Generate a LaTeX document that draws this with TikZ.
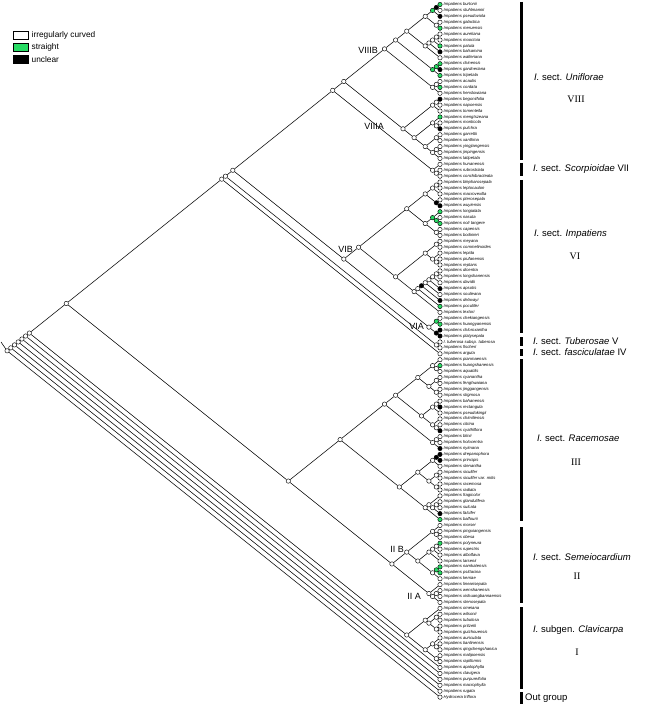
\documentclass[tikz,border=0pt]{standalone}
\usepackage{fontspec}
\setmainfont{Liberation Sans}
\newfontfamily\romfont{Liberation Serif}
\definecolor{gr}{RGB}{40,220,100}
\pgfdeclarelayer{bg}\pgfsetlayers{bg,main}
\tikzset{
 edge/.style={line width=0.55pt,black},
 nd/.style={circle,draw=black,line width=0.45pt,inner sep=0pt,minimum size=4.4pt},
 tiplab/.style={anchor=west,inner sep=0pt,font=\fontsize{4.2}{4.2}\selectfont\itshape},
 cladelab/.style={anchor=east,inner sep=0pt,font=\fontsize{9}{9}\selectfont},
 seclab/.style={anchor=west,inner sep=0pt,font=\fontsize{9.5}{9.5}\selectfont},
 romlab/.style={inner sep=0pt,font=\fontsize{10}{10}\selectfont\romfont},
 bar/.style={line width=3pt,black},
 keybox/.style={draw=black,line width=0.5pt,minimum width=15pt,minimum height=8pt,inner sep=0pt},
 keylab/.style={anchor=west,inner sep=0pt,font=\fontsize{8.3}{8.3}\selectfont}
}
\newcommand\cl[4][white]{%
 \pgfmathsetmacro\ya{4.5+(#2-1)*5.92}%
 \pgfmathsetmacro\yb{4.5+(#3-1)*5.92}%
 \node[nd,fill=#1] (c#2x#3) at ({440-(\yb-\ya)/1.6},{(\ya+\yb)/2}) {};%
 \begin{pgfonlayer}{bg}\draw[edge] (#4) -- (c#2x#3);\end{pgfonlayer}}
\newcommand\tpx[4]{%
 \pgfmathsetmacro\ya{4.5+(#1-1)*5.92}%
 \node[nd,fill=#3] (t#1) at (440,\ya) {};%
 \node[tiplab] (l#1) at (443.5,\ya) {#4};%
 \begin{pgfonlayer}{bg}\draw[edge] (#2) -- (t#1);\end{pgfonlayer}}
\newcommand\tp[4]{\tpx{#1}{#2}{#3}{Impatiens #4}}
\begin{document}
\begin{tikzpicture}[x=1pt,y=-1pt]
\useasboundingbox (0,0) rectangle (655,708);
% legend
\node[keybox,fill=white] (k1) at (20.5,35.5) {};
\node[keybox,fill=gr] (k2) at (20.5,47.5) {};
\node[keybox,fill=black] (k3) at (20.5,59.5) {};
\node[keylab] (kl1) at (31.5,35.5) {irregularly curved};
\node[keylab] (kl2) at (31.5,47.5) {straight};
\node[keylab] (kl3) at (31.5,59.5) {unclear};
% tree backbone
\coordinate (stub) at (1,342);
\cl{1}{118}{stub}
\cl{1}{117}{c1x118}
\cl{1}{116}{c1x117}
\cl{1}{115}{c1x116}
\cl{1}{114}{c1x115}
\cl{1}{113}{c1x114}
\cl{1}{112}{c1x113}
\cl{1}{102}{c1x112}
\cl{103}{112}{c1x112}
% Clavicarpa
\cl{103}{107}{c103x112}\cl{108}{112}{c103x112}
\cl{104}{107}{c103x107}\cl{104}{105}{c104x107}\cl{106}{107}{c104x107}
\cl{108}{110}{c108x112}\cl{111}{112}{c108x112}\cl{109}{110}{c108x110}
% main
\cl{1}{60}{c1x102}\cl{61}{102}{c1x102}
\cl{1}{59}{c1x60}
\cl{1}{57}{c1x59}\cl{58}{59}{c1x59}
\cl{1}{30}{c1x57}\cl{31}{57}{c1x57}
\cl{1}{27}{c1x30}\cl{28}{30}{c1x30}\cl{29}{30}{c28x30}
% VIII
\cl{1}{16}{c1x27}\cl{17}{27}{c1x27}
\cl{1}{13}{c1x16}\cl{14}{16}{c1x16}
\cl{1}{10}{c1x13}\cl[gr]{11}{13}{c1x13}
\cl{1}{5}{c1x10}\cl{6}{10}{c1x10}
\cl[gr]{1}{3}{c1x5}\cl{4}{5}{c1x5}\cl[black]{1}{2}{c1x3}
\cl{6}{9}{c6x10}\cl{6}{8}{c6x9}\cl{6}{7}{c6x8}
\cl[gr]{11}{12}{c11x13}
\cl{14}{15}{c14x16}
\cl{17}{19}{c17x27}\cl{20}{27}{c17x27}
\cl{17}{18}{c17x19}
\cl{20}{22}{c20x27}\cl{23}{27}{c20x27}
\cl{21}{22}{c20x22}
\cl{23}{24}{c23x27}\cl{25}{27}{c23x27}\cl{25}{26}{c25x27}
% VI
\cl{31}{53}{c31x57}\cl{54}{57}{c31x57}
\cl{31}{40}{c31x53}\cl{41}{53}{c31x53}
\cl{31}{35}{c31x40}\cl{36}{40}{c31x40}
\cl{31}{33}{c31x35}\cl[black]{34}{35}{c31x35}\cl{31}{32}{c31x33}
\cl[gr]{36}{38}{c36x40}\cl{39}{40}{c36x40}\cl[gr]{37}{38}{c36x38}
\cl{41}{45}{c41x53}\cl{46}{53}{c41x53}
\cl{41}{42}{c41x45}\cl{43}{45}{c41x45}\cl{44}{45}{c43x45}
\cl{46}{52}{c46x53}\cl[black]{46}{51}{c46x52}\cl{46}{50}{c46x51}
\cl{46}{49}{c46x50}\cl{46}{48}{c46x49}\cl{46}{47}{c46x48}
\cl[gr]{54}{55}{c54x57}\cl[black]{56}{57}{c54x57}
% III
\cl{61}{88}{c61x102}\cl{89}{102}{c61x102}
\cl{61}{76}{c61x88}\cl{77}{88}{c61x88}
\cl{61}{73}{c61x76}\cl{74}{76}{c61x76}\cl{74}{75}{c74x76}
\cl{61}{67}{c61x73}\cl{68}{73}{c61x73}
\cl{61}{63}{c61x67}\cl{64}{67}{c61x67}\cl{62}{63}{c61x63}
\cl{64}{65}{c64x67}\cl{66}{67}{c64x67}
\cl{68}{70}{c68x73}\cl{71}{73}{c68x73}\cl{68}{69}{c68x70}\cl{72}{73}{c71x73}
\cl{77}{83}{c77x88}\cl{84}{88}{c77x88}
\cl{77}{79}{c77x83}\cl{80}{83}{c77x83}\cl[black]{77}{78}{c77x79}
\cl{80}{81}{c80x83}\cl{82}{83}{c80x83}
\cl{84}{87}{c84x88}\cl{85}{87}{c84x87}\cl{85}{86}{c85x87}
% II
\cl{89}{98}{c89x102}\cl{99}{102}{c89x102}
\cl{89}{91}{c89x98}\cl{92}{98}{c89x98}\cl{90}{91}{c89x91}
\cl{92}{95}{c92x98}\cl{96}{98}{c92x98}
\cl{92}{94}{c92x95}\cl{92}{93}{c92x94}
\cl[gr]{96}{97}{c96x98}
\cl{100}{102}{c99x102}\cl{100}{101}{c100x102}
% tips
\tp{1}{c1x2}{gr}{burtonii}
\tp{2}{c1x2}{white}{stuhlmannii}
\tp{3}{c1x3}{black}{pseudoviola}
\tp{4}{c4x5}{white}{galactica}
\tp{5}{c4x5}{gr}{meruensis}
\tp{6}{c6x7}{white}{aureliana}
\tp{7}{c6x7}{white}{mooctoia}
\tp{8}{c6x8}{gr}{patula}
\tp{9}{c6x9}{black}{balsamina}
\tp{10}{c6x10}{white}{walleriana}
\tp{11}{c11x12}{gr}{chinensis}
\tp{12}{c11x12}{black}{gardneriana}
\tp{13}{c11x13}{gr}{tripetala}
\tp{14}{c14x15}{white}{acaulis}
\tp{15}{c14x15}{gr}{cordata}
\tp{16}{c14x16}{white}{henslowiana}
\tp{17}{c17x18}{black}{begoniifolia}
\tp{18}{c17x18}{white}{napoensis}
\tp{19}{c17x19}{white}{tomentella}
\tp{20}{c20x22}{gr}{mengtszeana}
\tp{21}{c21x22}{white}{monticola}
\tp{22}{c21x22}{black}{pulchra}
\tp{23}{c23x24}{white}{garrettii}
\tp{24}{c23x24}{white}{xanthina}
\tp{25}{c25x26}{white}{yingjiangensis}
\tp{26}{c25x26}{white}{jinpingensis}
\tp{27}{c25x27}{white}{latipetala}
\tp{28}{c28x30}{white}{hunanensis}
\tp{29}{c29x30}{white}{rubrostriata}
\tp{30}{c29x30}{white}{conchibracteata}
\tp{31}{c31x32}{white}{blepharosepala}
\tp{32}{c31x32}{white}{leptocaulon}
\tp{33}{c31x33}{white}{macrovexilla}
\tp{34}{c34x35}{white}{pterosepala}
\tp{35}{c34x35}{black}{wuyiensis}
\tp{36}{c36x38}{gr}{longialata}
\tp{37}{c37x38}{white}{nasuta}
\tp{38}{c37x38}{gr}{noli tangere}
\tp{39}{c39x40}{white}{capensis}
\tp{40}{c39x40}{white}{bodinieri}
\tp{41}{c41x42}{white}{meyana}
\tp{42}{c41x42}{white}{commelinoides}
\tp{43}{c43x45}{white}{lepida}
\tp{44}{c44x45}{white}{piufanensis}
\tp{45}{c44x45}{white}{reptans}
\tp{46}{c46x47}{white}{dicentra}
\tp{47}{c46x47}{white}{longshanensis}
\tp{48}{c46x48}{white}{davidii}
\tp{49}{c46x49}{black}{apsotis}
\tp{50}{c46x50}{white}{soulieana}
\tp{51}{c46x51}{black}{delavayi}
\tp{52}{c46x52}{gr}{poculifer}
\tp{53}{c46x53}{white}{textori}
\tp{54}{c54x55}{white}{chekiangensis}
\tp{55}{c54x55}{gr}{huangyanensis}
\tp{56}{c56x57}{black}{chloroxantha}
\tp{57}{c56x57}{black}{platysepala}
\tpx{58}{c58x59}{white}{I. tuberosa subsp. tuberosa}
\tp{59}{c58x59}{white}{fischeri}
\tp{60}{c1x60}{white}{arguta}
\tp{61}{c61x63}{white}{pianmaensis}
\tp{62}{c62x63}{gr}{huangshanensis}
\tp{63}{c62x63}{white}{aquatilis}
\tp{64}{c64x65}{white}{cyanantha}
\tp{65}{c64x65}{white}{fenghwaiana}
\tp{66}{c66x67}{white}{jinggangensis}
\tp{67}{c66x67}{white}{stigmosa}
\tp{68}{c68x69}{white}{bahanensis}
\tp{69}{c68x69}{black}{rectangula}
\tp{70}{c68x70}{white}{pseudokingii}
\tp{71}{c71x73}{white}{chimiliensis}
\tp{72}{c72x73}{white}{citrina}
\tp{73}{c72x73}{black}{cyathiflora}
\tp{74}{c74x75}{white}{blinii}
\tp{75}{c74x75}{white}{holocentra}
\tp{76}{c74x76}{black}{nyimana}
\tp{77}{c77x78}{black}{drepanophora}
\tp{78}{c77x78}{black}{principis}
\tp{79}{c77x79}{white}{stenantha}
\tp{80}{c80x81}{white}{siculifer}
\tp{81}{c80x81}{white}{siculifer var. mitis}
\tp{82}{c82x83}{white}{racemosa}
\tp{83}{c82x83}{white}{radiata}
\tp{84}{c84x87}{white}{fragicolor}
\tp{85}{c85x86}{white}{glandulifera}
\tp{86}{c85x86}{white}{sulcata}
\tp{87}{c85x87}{black}{falcifer}
\tp{88}{c84x88}{gr}{balfourii}
\tp{89}{c89x91}{white}{morsei}
\tp{90}{c90x91}{white}{pingxiangensis}
\tp{91}{c90x91}{white}{obesa}
\tp{92}{c92x93}{gr}{polyneura}
\tp{93}{c92x93}{white}{rupestris}
\tp{94}{c92x94}{white}{alboflava}
\tp{95}{c92x95}{white}{larsenii}
\tp{96}{c96x97}{gr}{namkatensis}
\tp{97}{c96x97}{gr}{psittacina}
\tp{98}{c96x98}{white}{kerriae}
\tp{99}{c99x102}{white}{linearisepala}
\tp{100}{c100x101}{white}{wenshanensis}
\tp{101}{c100x101}{white}{xishuangbannaensis}
\tp{102}{c100x102}{white}{stenosepala}
\tp{103}{c103x107}{white}{omeiana}
\tp{104}{c104x105}{white}{wilsonii}
\tp{105}{c104x105}{white}{tubulosa}
\tp{106}{c106x107}{white}{pritzelii}
\tp{107}{c106x107}{white}{guizhouensis}
\tp{108}{c108x110}{white}{auriculata}
\tp{109}{c109x110}{white}{tianlinensis}
\tp{110}{c109x110}{white}{qingchengshanica}
\tp{111}{c111x112}{white}{malipoensis}
\tp{112}{c111x112}{white}{rapiformis}
\tp{113}{c1x113}{white}{apalophylla}
\tp{114}{c1x114}{white}{clavigera}
\tp{115}{c1x115}{white}{purpureifolia}
\tp{116}{c1x116}{white}{macrophylla}
\tp{117}{c1x117}{white}{rugata}
\tpx{118}{c1x118}{white}{Hydrocera triflora}
% clade labels
\node[cladelab] (lVIIIB) at (378,50) {VIIIB};
\node[cladelab] (lVIIIA) at (384,126) {VIIIA};
\node[cladelab] (lVIB) at ([xshift=-3pt,yshift=-2pt]c31x53.west) {VIB};
\node[cladelab] (lVIA) at (424,326) {VIA};
\node[cladelab] (lIIB) at (404,549) {II B};
\node[cladelab] (lIIA) at (421,596) {II A};
% section bars and labels
\draw[bar] (521,2) -- (521,160);
\draw[bar] (521,163) -- (521,176);
\draw[bar] (521,180) -- (521,333);
\draw[bar] (521,337) -- (521,346);
\draw[bar] (521,349) -- (521,356);
\draw[bar] (521,359) -- (521,521);
\draw[bar] (521,527) -- (521,603);
\draw[bar] (521,607) -- (521,689);
\draw[bar] (521,692) -- (521,704);
\node[seclab] (s8) at (534,77) {\textit{I.} sect. \textit{Uniflorae}};
\node[romlab] (r8) at (576,99) {VIII};
\node[seclab] (s7) at (533,169.5) {\textit{I.} sect. \textit{Scorpioidae} VII};
\node[seclab] (s6) at (534,234) {\textit{I.} sect. \textit{Impatiens}};
\node[romlab] (r6) at (575,256) {VI};
\node[seclab] (s5) at (533,341) {\textit{I.} sect. \textit{Tuberosae} V};
\node[seclab] (s4) at (533,352.5) {\textit{I.} sect. \textit{fasciculatae} IV};
\node[seclab] (s3) at (537,438) {\textit{I.} sect. \textit{Racemosae}};
\node[romlab] (r3) at (576,462) {III};
\node[seclab] (s2) at (533,557) {\textit{I.} sect. \textit{Semeiocardium}};
\node[romlab] (r2) at (577,576) {II};
\node[seclab] (s1) at (533,630) {\textit{I.} subgen. \textit{Clavicarpa}};
\node[romlab] (r1) at (577,652) {I};
\node[seclab] (s0) at (525,698) {Out group};
\end{tikzpicture}
\end{document}
